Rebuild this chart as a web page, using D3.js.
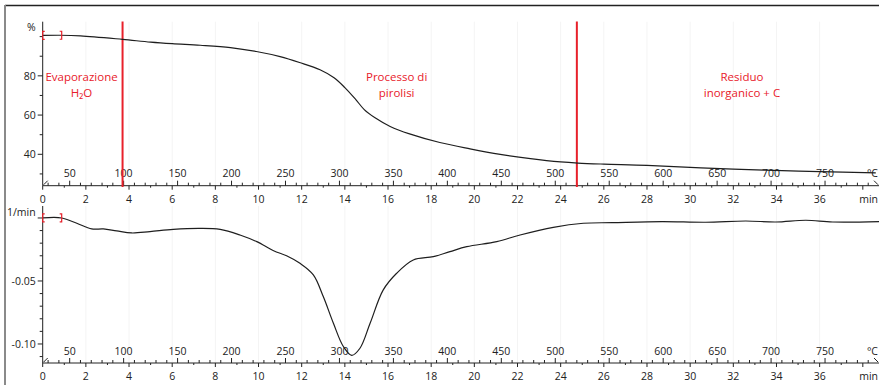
<!DOCTYPE html>
<html><head><meta charset="utf-8">
<script src="https://cdn.jsdelivr.net/npm/d3@7"></script>
<style>body{margin:0;background:#fff}svg{display:block}text{font-family:"Open Sans",sans-serif}</style>
</head><body><div id="c"></div>
<script>
// ---- data ----
const timeTicks = [0,2,4,6,8,10,12,14,16,18,20,22,24,26,28,30,32,34,36];
const tempTicks = [50,100,150,200,250,300,350,400,450,500,550,600,650,700,750];
const tgTicks = [40,60,80];
const dtgTicks = [-0.05,-0.10];
const tgTime  = [0,0.8,1.75,3.7,5,6,7.3,8.7,9.9,11,11.9,12.85,13.5,14,14.5,14.9,15.4,16.1,17,18.4,19.8,21.2,22.6,24,24.8,26,28,30.5,33.5,36,38.6];
const tgValue = [100.6,100.7,100.4,98.6,97.2,96.4,95.6,94.4,92.4,89.8,86.8,83.1,79,74,68,62.8,58.6,54.2,50.4,46,42.8,40,37.8,36.1,35.5,35,34.4,33.1,31.9,31.2,30.5];
const dtgTime  = [0,0.88,1.58,2.27,2.81,3.43,4.12,4.97,6.05,7.29,8.22,9.14,9.92,10.7,11.3,11.92,12.54,13.0,13.47,13.93,14.32,14.7,15.17,15.78,16.4,17.17,18.1,18.87,19.65,21.04,22.12,23.66,25.05,26.38,28.7,30.72,32.58,33.97,35.36,36.6,38.75];
const dtgValue = [0,0,-0.0042,-0.0087,-0.0087,-0.0103,-0.0119,-0.0108,-0.009,-0.0082,-0.009,-0.0135,-0.0188,-0.026,-0.030,-0.036,-0.0452,-0.0624,-0.0836,-0.102,-0.109,-0.1034,-0.0836,-0.0571,-0.0439,-0.0333,-0.0307,-0.0267,-0.0228,-0.0188,-0.0135,-0.0074,-0.0042,-0.0037,-0.0029,-0.0034,-0.0024,-0.0032,-0.0018,-0.0032,-0.0029];
const stageLines = [3.7, 24.75];
const stageLabels = [["Evaporazione","H₂O"],["Processo di","pirolisi"],["Residuo","inorganico + C"]];
const stageLabelTime = [1.8, 16.4, 32.4];
const markerTime = [0, 0.88];
const T0 = 25, rate = 20;

// ---- layout ----
const W = 879, H = 385;
const FS = 10.5;
const svg = d3.select("#c").append("svg").attr("width", W).attr("height", H);
const x = d3.scaleLinear().domain([0, 38.75]).range([42.7, 879]);
const xT = d3.scaleLinear().domain([T0, T0 + rate * 38.75]).range(x.range());
const yTop = d3.scaleLinear().domain([24, 107.6]).range([185.7, 21.7]);
const yBot = d3.scaleLinear().domain([-0.1151, 0.0095]).range([363, 206]);

// frame
svg.append("line").attr("x1",5).attr("x2",W).attr("y1",5.5).attr("y2",5.5).attr("stroke","#222").attr("stroke-width",1.5);
svg.append("line").attr("x1",5).attr("x2",5).attr("y1",5).attr("y2",H).attr("stroke","#8a8a8a").attr("stroke-width",2);

function panel(y, yTicksMajor, yMinorStep, fmt, yLabel, xAxisY) {
  const g = svg.append("g");
  const [d0, d1] = y.domain();
  timeTicks.forEach(t => g.append("line").attr("x1", x(t)).attr("x2", x(t))
    .attr("y1", y.range()[1]).attr("y2", xAxisY).attr("stroke", "#f4f4f4"));
  g.append("line").attr("x1", x(0)).attr("x2", x(0)).attr("y1", y.range()[1]).attr("y2", xAxisY).attr("stroke","#222");
  const minorVals = d3.range(Math.ceil(d0 / yMinorStep) * yMinorStep, d1 + 1e-9, yMinorStep);
  minorVals.forEach(v => {
    const major = yTicksMajor.some(m => Math.abs(m - v) < 1e-9) || Math.abs(v) < 1e-9;
    g.append("line").attr("x1", x(0) - (major ? 5 : 3)).attr("x2", x(0)).attr("y1", y(v)).attr("y2", y(v)).attr("stroke","#222");
  });
  yTicksMajor.forEach(v => g.append("text").attr("x", x(0) - 7).attr("y", y(v)).attr("dy","0.35em")
    .attr("text-anchor","end").attr("font-size",FS).attr("fill","#222").text(fmt(v)));
  g.append("text").attr("x", x(0) - 7).attr("y", y.range()[1] + 6).attr("dy","0.35em")
    .attr("text-anchor","end").attr("font-size",FS).attr("fill","#222").text(yLabel);
  g.append("line").attr("x1", x(0)).attr("x2", W).attr("y1", xAxisY).attr("y2", xAxisY).attr("stroke","#222");
  d3.range(30, T0 + rate * 38.75, 10).forEach(T => {
    const major = T % 50 === 0;
    g.append("line").attr("x1", xT(T)).attr("x2", xT(T)).attr("y1", xAxisY - (major ? 5 : 3)).attr("y2", xAxisY).attr("stroke","#222");
  });
  tempTicks.forEach(T => g.append("text").attr("x", xT(T)).attr("y", xAxisY - 12).attr("dy","0.35em")
    .attr("text-anchor","middle").attr("font-size",FS).attr("fill","#222").text(T));
  g.append("text").attr("x", W - 1).attr("y", xAxisY - 12).attr("dy","0.35em").attr("text-anchor","end")
    .attr("font-size",FS).attr("fill","#222").text("°C");
  d3.range(0, 39, 1).forEach(t => {
    const major = t % 2 === 0;
    g.append("line").attr("x1", x(t)).attr("x2", x(t)).attr("y1", xAxisY).attr("y2", xAxisY + (major ? 4 : 2)).attr("stroke","#222");
  });
  timeTicks.forEach(t => g.append("text").attr("x", x(t)).attr("y", xAxisY + 13.5).attr("dy","0.35em")
    .attr("text-anchor","middle").attr("font-size",FS).attr("fill","#222").text(t));
  g.append("text").attr("x", W - 1).attr("y", xAxisY + 13.5).attr("dy","0.35em").attr("text-anchor","end")
    .attr("font-size",FS).attr("fill","#222").text("min");
  g.append("line").attr("x1", x(0) + 1).attr("x2", x(0) + 5).attr("y1", xAxisY - 1).attr("y2", xAxisY - 5).attr("stroke","#222");
  g.append("line").attr("x1", 874).attr("x2", 878).attr("y1", xAxisY - 5).attr("y2", xAxisY - 1).attr("stroke","#222");
  return g;
}

panel(yTop, tgTicks, 10, d => d, "%", 185.7);
panel(yBot, dtgTicks, 0.01, d => d3.format(".2f")(d).replace("−", "-"), "1/min", 363);

stageLines.forEach(t => svg.append("line").attr("x1", x(t)).attr("x2", x(t)).attr("y1", 21.5).attr("y2", 187)
  .attr("stroke","#e8202a").attr("stroke-width",2));
stageLabels.forEach((lines, i) => {
  const tx = svg.append("text").attr("x", x(stageLabelTime[i])).attr("y", 77).attr("text-anchor","middle")
    .attr("font-size",11.5).attr("fill","#e8202a");
  lines.forEach((l, j) => tx.append("tspan").attr("x", x(stageLabelTime[i])).attr("dy", j ? 16 : 4).text(l));
});

const lineTop = d3.line().x((d,i) => x(tgTime[i])).y(d => yTop(d)).curve(d3.curveCatmullRom);
svg.append("path").attr("d", lineTop(tgValue)).attr("fill","none").attr("stroke","#1e1e1e").attr("stroke-width",1.2);
const lineBot = d3.line().x((d,i) => x(dtgTime[i])).y(d => yBot(d)).curve(d3.curveCatmullRom);
svg.append("path").attr("d", lineBot(dtgValue)).attr("fill","none").attr("stroke","#1e1e1e").attr("stroke-width",1.2);

function bracket(t, yv, open) {
  const px = x(t), py = yv;
  const dir = open ? 1 : -1;
  svg.append("path").attr("d", `M${px + 2*dir},${py-4} L${px},${py-4} L${px},${py+4} L${px + 2*dir},${py+4}`)
    .attr("fill","none").attr("stroke","#e8202a").attr("stroke-width",1.2);
}
bracket(markerTime[0], yTop(tgValue[0]), true);
bracket(markerTime[1], yTop(tgValue[1]), false);
bracket(markerTime[0], yBot(dtgValue[0]), true);
bracket(markerTime[1], yBot(dtgValue[1]), false);
</script></body></html>
